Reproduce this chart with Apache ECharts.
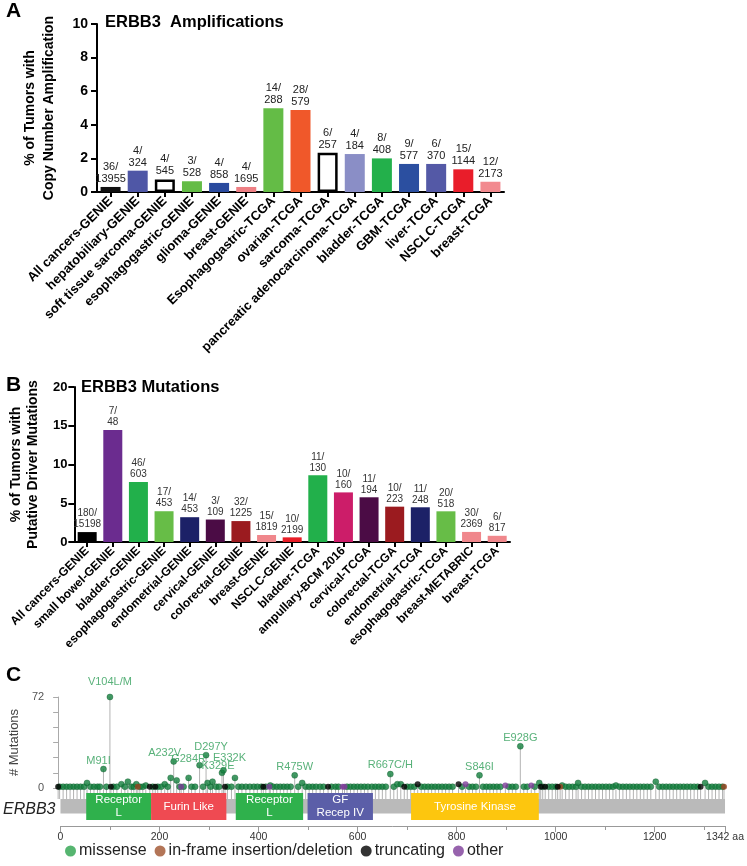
<!DOCTYPE html>
<html>
<head>
<meta charset="utf-8">
<script src="https://cdn.jsdelivr.net/npm/echarts@6/dist/echarts.min.js"></script>
<style>html,body{margin:0;padding:0;background:#fff}#c{width:747px;height:866px}</style>
</head>
<body>
<div id="c"></div>
<script>
// ---------- Panel A: amplifications ----------
const ampCategories = ['All cancers-GENIE','hepatobiliary-GENIE','soft tissue sarcoma-GENIE','esophagogastric-GENIE','glioma-GENIE','breast-GENIE','Esophagogastric-TCGA','ovarian-TCGA','sarcoma-TCGA','pancreatic adenocarcinoma-TCGA','bladder-TCGA','GBM-TCGA','liver-TCGA','NSCLC-TCGA','breast-TCGA'];
const ampValues = [0.3,1.27,0.75,0.64,0.54,0.3,4.98,4.88,2.34,2.26,2.0,1.67,1.67,1.35,0.61];
const ampNumerators = [36,4,4,3,4,4,14,28,6,4,8,9,6,15,12];
const ampDenominators = [13955,324,545,528,858,1695,288,579,257,184,408,577,370,1144,2173];
const ampYTicks = {min:0,max:10,interval:2};

// ---------- Panel B: mutations ----------
const mutCategories = ['All cancers-GENIE','small bowel-GENIE','bladder-GENIE','esophagogastric-GENIE','endometrial-GENIE','cervical-GENIE','colorectal-GENIE','breast-GENIE','NSCLC-GENIE','bladder-TCGA','ampullary-BCM 2016','cervical-TCGA','colorectal-TCGA','endometrial-TCGA','esophagogastric-TCGA','breast-METABRIC','breast-TCGA'];
const mutValues = [1.28,14.45,7.73,3.97,3.2,2.9,2.7,0.9,0.6,8.6,6.4,5.77,4.56,4.48,3.96,1.3,0.8];
const mutNumerators = [180,7,46,17,14,3,32,15,10,11,10,11,10,11,20,30,6];
const mutDenominators = [15198,48,603,453,453,109,1225,1819,2199,130,160,194,223,248,518,2369,817];
const mutYTicks = {min:0,max:20,interval:5};

// ---------- Panel C: lollipop ----------
const proteinLength = 1342;
const hotspotNames = ['M91I','V104L/M','A232V','G284R','D297Y','K329E','E332K','R475W','R667C/H','S846I','E928G'];
const hotspotPositions = [91,104,232,284,297,329,332,475,667,846,928];
const hotspotCounts = [15,72,21,18,26,12,14,10,11,10,33];
const missenseOther = [[3,1],[10,1],[17,1],[24,1],[31,1],[38,1],[45,1],[52,1],[58,4],[65,1],[72,1],[79,1],[84,1],[97,1],[111,1],[118,1],[127,3],[134,1],[140,5],[147,1],[152,1],[157,3],[164,1],[170,1],[176,2],[190,1],[200,1],[207,1],[214,3],[220,1],[226,8],[238,6],[244,1],[252,1],[262,8],[268,1],[275,1],[291,1],[300,4],[306,1],[310,5],[317,1],[323,1],[340,1],[348,1],[355,8],[362,1],[369,1],[377,1],[385,1],[393,1],[400,1],[408,1],[417,1],[426,2],[432,1],[439,1],[446,1],[453,1],[460,1],[467,1],[482,1],[490,4],[497,1],[504,1],[511,1],[518,1],[526,1],[533,1],[549,1],[557,1],[563,1],[580,1],[587,1],[594,1],[601,1],[608,1],[615,1],[622,1],[630,1],[637,1],[644,1],[651,1],[658,1],[674,1],[681,3],[688,3],[701,1],[708,1],[715,1],[729,1],[736,1],[743,1],[750,1],[757,1],[764,1],[771,1],[778,1],[785,1],[792,1],[811,1],[825,1],[832,1],[839,1],[853,1],[860,1],[867,1],[874,1],[881,1],[888,1],[905,1],[912,1],[919,1],[935,1],[942,1],[957,1],[966,4],[973,1],[985,1],[992,1],[999,1],[1012,2],[1019,1],[1026,1],[1033,1],[1040,1],[1044,4],[1051,1],[1058,1],[1065,1],[1072,1],[1079,1],[1086,1],[1093,1],[1100,1],[1107,1],[1114,1],[1120,2],[1127,1],[1134,1],[1141,1],[1148,1],[1155,1],[1162,1],[1169,1],[1176,1],[1183,1],[1190,1],[1200,5],[1207,1],[1214,1],[1221,1],[1228,1],[1235,1],[1242,1],[1249,1],[1256,1],[1263,1],[1270,1],[1277,1],[1284,1],[1299,4],[1306,1],[1313,1],[1320,1],[1327,1],[1334,1]];
const truncatingMutations = [[0,1],[106,1],[184,1],[195,1],[335,1],[412,1],[542,1],[695,1],[722,3],[804,3],[969,1],[978,1],[1003,1],[1290,1]];
const otherMutations = [[247,1],[424,1],[571,1],[575,1],[818,3],[898,2],[950,2]];
const inframeMutations = [[160,1],[1008,1],[1337,1]];
const domainNames = ['Receptor\nL','Furin Like','Receptor\nL','GF\nRecep IV','Tyrosine Kinase'];
const domainStarts = [52,183,354,499,708];
const domainEnds = [183,335,490,631,966];
const legendNames = ['missense','in-frame insertion/deletion','truncating','other'];

// ---------- styles ----------
const FONT = "'Liberation Sans', Arial, Helvetica, sans-serif";
const ampColors = ['#111111','#4f57a6','outline','#64bc46','#2a4a9e','#ee7f84','#64bc46','#f0582a','outline','#8a8ec6','#23b04b','#2b4fa0','#5459a6','#e91d2a','#f28a8f'];
const mutColors = ['#000000','#6b2c8f','#22b04b','#67bd47','#1c2167','#4b0c45','#9b1b1f','#f0878c','#e81e27','#22b04b','#cc1d69','#4b0c45','#9b1b1f','#1c2167','#67bd47','#f0878c','#f0878c'];
const domainColors = ['#2fb14c','#ef4a52','#2fb14c','#5b5ea8','#fdc60e'];
const typeColors = {missense:'#13803d', inframe:'#994220', truncating:'#000000', other:'#7d3c98'};
const legendColors = ['#2ca24c','#a0522d','#000000','#7d3c98'];
const hotspotLabelOffsets = {'M91I':[-5,1],'V104L/M':[0,-6],'A232V':[-9,0],'G284R':[-11,2],'D297Y':[5,1],'K329E':[-4,2],'E332K':[6,-4]};

function barStyle(c){
  return c === 'outline' ? {color:'#ffffff', borderColor:'#000000', borderWidth:2.5} : {color:c};
}

const chart = echarts.init(document.getElementById('c'));

const boldAxis = (fs) => ({
  axisLine:{show:true, lineStyle:{color:'#000', width:2}},
  axisTick:{show:true, length:6, lineStyle:{color:'#000', width:2}},
  axisLabel:{color:'#000', fontWeight:'bold', fontSize:fs, fontFamily:FONT},
  splitLine:{show:false}
});

const missenseData = missenseOther.map(d => ({value:d}))
  .concat(hotspotNames.map((n,i) => ({
    name:n,
    value:[hotspotPositions[i], hotspotCounts[i]],
    label:{show:true, formatter:n, position:'top', distance:0, offset:hotspotLabelOffsets[n] || [0,0],
           color:'#2e9e58', fontSize:11, fontFamily:FONT}
  })));

const allMutations = missenseOther
  .concat(hotspotPositions.map((p,i)=>[p,hotspotCounts[i]]))
  .concat(truncatingMutations, otherMutations, inframeMutations);

const option = {
  animation:false,
  textStyle:{fontFamily:FONT},
  title:[
    {text:'A', left:6, top:1, padding:0, textStyle:{fontSize:21, fontWeight:'bold', color:'#000', fontFamily:FONT}},
    {text:'ERBB3  Amplifications', left:105, top:13.5, padding:0, textStyle:{fontSize:16.5, fontWeight:'bold', color:'#000', fontFamily:FONT}},
    {text:'B', left:6, top:374.5, padding:0, textStyle:{fontSize:21, fontWeight:'bold', color:'#000', fontFamily:FONT}},
    {text:'ERBB3 Mutations', left:81, top:379, padding:0, textStyle:{fontSize:16.5, fontWeight:'bold', color:'#000', fontFamily:FONT}},
    {text:'C', left:6, top:665, padding:0, textStyle:{fontSize:21, fontWeight:'bold', color:'#000', fontFamily:FONT}}
  ],
  grid:[
    {left:97, right:243, top:24, height:168},
    {left:72, right:237, top:387, height:155},
    {left:49.5, right:20.5, top:697, height:91},
    {left:49.5, right:20.5, top:793, height:33}
  ],
  xAxis:[
    Object.assign({gridIndex:0, type:'category', data:ampCategories}, boldAxis(13), {
      axisTick:{show:true, alignWithLabel:true, length:5, lineStyle:{color:'#000', width:2}},
      axisLabel:{interval:0, rotate:45, margin:7, color:'#000', fontWeight:'bold', fontSize:13, fontFamily:FONT}
    }),
    Object.assign({gridIndex:1, type:'category', data:mutCategories}, boldAxis(12), {
      axisTick:{show:true, alignWithLabel:true, length:5, lineStyle:{color:'#000', width:2}},
      axisLabel:{interval:0, rotate:45, margin:7, color:'#000', fontWeight:'bold', fontSize:12, fontFamily:FONT}
    }),
    {gridIndex:2, type:'value', min:0, max:proteinLength, show:false},
    {gridIndex:3, type:'value', min:0, max:proteinLength, interval:200, position:'bottom',
      axisLine:{show:true, lineStyle:{color:'#999', width:1}},
      axisTick:{show:true, length:6, lineStyle:{color:'#999'}},
      minorTick:{show:true, splitNumber:2, length:4, lineStyle:{color:'#999'}},
      splitLine:{show:false}, minorSplitLine:{show:false},
      axisLabel:{color:'#333', fontSize:10.5, margin:6, fontFamily:FONT, showMaxLabel:true,
        formatter:(v)=> v === proteinLength ? v + ' aa' : String(v)}}
  ],
  yAxis:[
    Object.assign({gridIndex:0, type:'value', min:ampYTicks.min, max:ampYTicks.max, interval:ampYTicks.interval,
      name:'% of Tumors with\nCopy Number Amplification', nameLocation:'middle', nameGap:38,
      nameTextStyle:{fontSize:14, fontWeight:'bold', color:'#000', lineHeight:19, fontFamily:FONT}}, boldAxis(14),
      {axisLabel:{color:'#000', fontWeight:'bold', fontSize:14, margin:9, fontFamily:FONT}}),
    Object.assign({gridIndex:1, type:'value', min:mutYTicks.min, max:mutYTicks.max, interval:mutYTicks.interval,
      name:'% of Tumors with\nPutative Driver Mutations', nameLocation:'middle', nameGap:29,
      nameTextStyle:{fontSize:14, fontWeight:'bold', color:'#000', lineHeight:17, fontFamily:FONT}}, boldAxis(13),
      {axisLabel:{color:'#000', fontWeight:'bold', fontSize:13, margin:7, fontFamily:FONT}}),
    {gridIndex:2, type:'value', min:0, max:72, interval:12, offset:6,
      name:'# Mutations', nameLocation:'middle', nameGap:16,
      nameTextStyle:{fontSize:13, color:'#444', fontFamily:FONT},
      axisLine:{show:true, lineStyle:{color:'#aaa'}},
      axisTick:{show:true, length:5, lineStyle:{color:'#aaa'}},
      splitLine:{show:false},
      axisLabel:{color:'#555', fontSize:11, margin:8, fontFamily:FONT,
        formatter:(v)=> (v === 0 || v === 72) ? String(v) : ''}},
    {gridIndex:3, type:'value', min:0, max:1, show:true,
      axisLine:{show:false}, axisTick:{show:false}, axisLabel:{show:false}, splitLine:{show:false},
      name:'ERBB3', nameLocation:'middle', nameRotate:0, nameGap:5,
      nameTextStyle:{fontSize:16, fontStyle:'italic', color:'#222', fontFamily:FONT, padding:[0,0,8,0]}}
  ],
  legend:{
    left:60, top:838, itemWidth:11, itemHeight:11, itemGap:8, icon:'circle',
    textStyle:{fontSize:16, color:'#222', fontFamily:FONT, padding:[0,0,0,-2]},
    data:legendNames.map((n,i)=>({name:n, icon:'circle', itemStyle:{color:legendColors[i], borderWidth:0}})),
    selectedMode:false
  },
  series:[
    {type:'bar', xAxisIndex:0, yAxisIndex:0, barWidth:20,
      data:ampValues.map((v,i)=>({value:v, itemStyle:barStyle(ampColors[i])})),
      label:{show:true, position:'top', distance:2, color:'#222', fontSize:11, lineHeight:12, fontFamily:FONT,
        formatter:(p)=> ampNumerators[p.dataIndex] + '/\n' + ampDenominators[p.dataIndex]}},
    {type:'bar', xAxisIndex:1, yAxisIndex:1, barWidth:19,
      data:mutValues.map((v,i)=>({value:v, itemStyle:barStyle(mutColors[i])})),
      label:{show:true, position:'top', distance:2, color:'#333', fontSize:10, lineHeight:11, fontFamily:FONT,
        formatter:(p)=> mutNumerators[p.dataIndex] + '/\n' + mutDenominators[p.dataIndex]}},
    // stems
    {type:'custom', xAxisIndex:2, yAxisIndex:2, z:1, silent:true,
      data:allMutations,
      renderItem:(params, api)=>{
        const p = api.coord([api.value(0), api.value(1)]);
        const b = api.coord([api.value(0), 0]);
        return {type:'line', shape:{x1:p[0], y1:p[1], x2:p[0], y2:b[1]+11},
          style:{stroke:'#b3b3b3', lineWidth:1}};
      }},
    // gene backbone
    {type:'custom', xAxisIndex:3, yAxisIndex:3, z:2, silent:true,
      data:[[0, proteinLength]],
      renderItem:(params, api)=>{
        const p1 = api.coord([api.value(0), 0.82]);
        const p2 = api.coord([api.value(1), 0.38]);
        return {type:'rect', shape:{x:p1[0], y:p1[1], width:p2[0]-p1[0], height:p2[1]-p1[1]},
          style:{fill:'#bababa'}};
      }},
    // domains
    {type:'custom', xAxisIndex:3, yAxisIndex:3, z:3, silent:true,
      data:domainStarts.map((s,i)=>[s, domainEnds[i], i]),
      renderItem:(params, api)=>{
        const idx = api.value(2);
        const p1 = api.coord([api.value(0), 1]);
        const p2 = api.coord([api.value(1), 0.18]);
        return {type:'group', children:[
          {type:'rect', shape:{x:p1[0], y:p1[1], width:p2[0]-p1[0], height:p2[1]-p1[1]},
            style:{fill:domainColors[idx]}},
          {type:'text', x:(p1[0]+p2[0])/2, y:(p1[1]+p2[1])/2,
            style:{text:domainNames[idx], fill:'#fff', font:'11.5px ' + FONT, align:'center', verticalAlign:'middle', lineHeight:12.5}}
        ]};
      }},
    {type:'scatter', name:'missense', xAxisIndex:2, yAxisIndex:2, z:4, symbolSize:6,
      itemStyle:{color:typeColors.missense, borderColor:'#0c5a2a', borderWidth:0.5},
      data:missenseData},
    {type:'scatter', name:'in-frame insertion/deletion', xAxisIndex:2, yAxisIndex:2, z:4, symbolSize:6,
      itemStyle:{color:typeColors.inframe}, data:inframeMutations},
    {type:'scatter', name:'truncating', xAxisIndex:2, yAxisIndex:2, z:4, symbolSize:6,
      itemStyle:{color:typeColors.truncating}, data:truncatingMutations},
    {type:'scatter', name:'other', xAxisIndex:2, yAxisIndex:2, z:4, symbolSize:6,
      itemStyle:{color:typeColors.other}, data:otherMutations}
  ]
};
chart.setOption(option);
</script>
</body>
</html>
